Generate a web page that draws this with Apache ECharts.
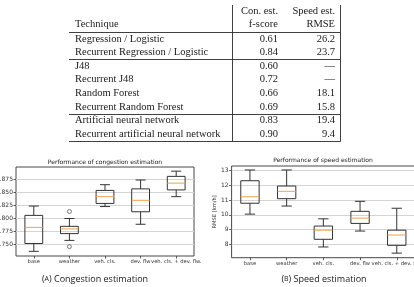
<!DOCTYPE html>
<html><head><meta charset="utf-8">
<script src="https://cdn.jsdelivr.net/npm/echarts@6/dist/echarts.min.js"></script>
<style>html,body{margin:0;padding:0;background:#fff}#c{width:414px;height:287px}</style>
</head><body><div id="c"></div><script>
// ---- table data ----
const techniques = ['Regression / Logistic', 'Recurrent Regression / Logistic', 'J48', 'Recurrent J48',
  'Random Forest', 'Recurrent Random Forest', 'Artificial neural network', 'Recurrent artificial neural network'];
const conFscore = [0.61, 0.84, 0.60, 0.72, 0.66, 0.69, 0.83, 0.90];
const speedRmse = [26.2, 23.7, null, null, 18.1, 15.8, 19.4, 9.4];

// ---- box plot data: [min, q1, median, q3, max] ----
const categories = ['base', 'weather', 'veh. cls.', 'dev. flw', 'veh. cls. + dev. flw.'];
const congestionBoxes = [
  [0.736, 0.751, 0.782, 0.805, 0.823],
  [0.757, 0.770, 0.779, 0.784, 0.799],
  [0.822, 0.828, 0.841, 0.853, 0.864],
  [0.788, 0.812, 0.834, 0.856, 0.873],
  [0.841, 0.854, 0.867, 0.880, 0.890]
];
const congestionOutliers = [[1, 0.8125], [1, 0.745]];
const congestionTicks = [0.750, 0.775, 0.800, 0.825, 0.850, 0.875];
const speedBoxes = [
  [10.05, 10.79, 11.23, 12.32, 13.05],
  [10.60, 11.10, 11.60, 11.96, 13.05],
  [7.82, 8.34, 8.96, 9.24, 9.73],
  [8.90, 9.42, 9.78, 10.24, 10.92],
  [7.40, 7.93, 8.63, 8.96, 10.45]
];
const speedOutliers = [];
const speedTicks = [8, 9, 10, 11, 12, 13];

const chart = echarts.init(document.getElementById('c'), null, {renderer: 'canvas'});

const serif = '"Liberation Serif", "DejaVu Serif", serif';
const sans = '"DejaVu Sans", sans-serif';
const ink = '#333';

function boxRender(params, api) {
  const x = api.value(0);
  const lo = api.coord([x, api.value(1)]);
  const q1 = api.coord([x, api.value(2)]);
  const md = api.coord([x, api.value(3)]);
  const q3 = api.coord([x, api.value(4)]);
  const hi = api.coord([x, api.value(5)]);
  const band = api.size([1, 0])[0];
  const hw = band * 0.25, cw = band * 0.14;
  const cx = lo[0];
  const ls = {stroke: ink, lineWidth: 1};
  return {
    type: 'group',
    children: [
      {type: 'line', shape: {x1: cx, y1: hi[1], x2: cx, y2: q3[1]}, style: ls},
      {type: 'line', shape: {x1: cx, y1: q1[1], x2: cx, y2: lo[1]}, style: ls},
      {type: 'line', shape: {x1: cx - cw, y1: hi[1], x2: cx + cw, y2: hi[1]}, style: ls},
      {type: 'line', shape: {x1: cx - cw, y1: lo[1], x2: cx + cw, y2: lo[1]}, style: ls},
      {type: 'rect', shape: {x: cx - hw, y: q3[1], width: 2 * hw, height: q1[1] - q3[1]}, style: {fill: 'rgba(255,255,255,0)', stroke: ink, lineWidth: 1}},
      {type: 'line', shape: {x1: cx - hw, y1: md[1], x2: cx + hw, y2: md[1]}, style: {stroke: '#f5a04a', lineWidth: 1}}
    ]
  };
}

function yAxisCfg(gi, min, max, ticks, fmt, name) {
  return {
    gridIndex: gi, type: 'value', min: min, max: max,
    name: name || '', nameLocation: 'middle', nameGap: 14,
    nameTextStyle: {fontFamily: sans, fontSize: 5.2, color: ink},
    axisLine: {show: false},
    axisTick: {show: true, length: 2.5, lineStyle: {color: ink, width: 0.8}, customValues: ticks},
    axisLabel: {fontFamily: sans, fontSize: 6, color: ink, margin: 3, customValues: ticks, formatter: fmt},
    splitLine: {show: true, lineStyle: {color: '#d4d4d4', width: 1}}
  };
}
function xAxisCfg(gi) {
  return {
    gridIndex: gi, type: 'category', data: categories, boundaryGap: true,
    axisLine: {show: false},
    axisTick: {show: true, alignWithLabel: true, length: 2.5, lineStyle: {color: ink, width: 0.8}},
    axisLabel: {fontFamily: sans, fontSize: 5.2, color: ink, margin: 3, interval: 0, hideOverlap: false},
    splitLine: {show: false}
  };
}

const rowY0 = 39, rowStep = 13.57;
const graphics = [];
function txt(t, x, y, align, font) {
  graphics.push({type: 'text', x: x, y: y, silent: true,
    style: {text: t, textAlign: align, textVerticalAlign: 'middle', font: font || ('10.5px ' + serif), fill: '#1a1a1a'}});
}
function ln(x1, y1, x2, y2) {
  graphics.push({type: 'line', silent: true, shape: {x1: x1, y1: y1, x2: x2, y2: y2}, style: {stroke: '#2a2a2a', lineWidth: 0.9}});
}
txt('Con. est.', 278, 11, 'right');
txt('Speed est.', 335, 11, 'right');
txt('Technique', 75, 24.5, 'left');
txt('f-score', 278, 24.5, 'right');
txt('RMSE', 335, 24.5, 'right');
techniques.forEach(function (t, i) {
  const y = rowY0 + i * rowStep;
  txt(t, 75, y, 'left');
  txt(conFscore[i].toFixed(2), 278, y, 'right');
  txt(speedRmse[i] == null ? '\u2014' : speedRmse[i].toFixed(1), 335, y, 'right');
});
ln(69, 32.5, 340.5, 32.5);
ln(69, 59.5, 340.5, 59.5);
ln(69, 114.5, 340.5, 114.5);
ln(69, 141.5, 340.5, 141.5);
ln(232.5, 5, 232.5, 141.5);
ln(340.5, 5, 340.5, 141.5);

// chart titles
txt('Performance of congestion estimation', 105, 162, 'center', '6px ' + sans);
txt('Performance of speed estimation', 323, 160.5, 'center', '6px ' + sans);
// captions
graphics.push({type: 'text', x: 95, y: 279, silent: true,
  style: {text: '({sc|A}) Congestion estimation', rich: {sc: {fontSize: 7, fontFamily: '"Open Sans", sans-serif', fill: '#1a1a1a'}},
    textAlign: 'center', textVerticalAlign: 'middle', font: '9px "Open Sans", sans-serif', fill: '#1a1a1a'}});
graphics.push({type: 'text', x: 324, y: 279, silent: true,
  style: {text: '({sc|B}) Speed estimation', rich: {sc: {fontSize: 7, fontFamily: '"Open Sans", sans-serif', fill: '#1a1a1a'}},
    textAlign: 'center', textVerticalAlign: 'middle', font: '9px "Open Sans", sans-serif', fill: '#1a1a1a'}});

chart.setOption({
  animation: false,
  backgroundColor: '#fff',
  grid: [
    {left: 16, top: 167, width: 178, height: 89, show: true, borderColor: ink, borderWidth: 0.9, backgroundColor: 'transparent', containLabel: false, outerBoundsMode: 'none'},
    {left: 231.6, top: 166, width: 183.5, height: 91.7, show: true, borderColor: ink, borderWidth: 0.9, backgroundColor: 'transparent', containLabel: false, outerBoundsMode: 'none'}
  ],
  xAxis: [xAxisCfg(0), xAxisCfg(1)],
  yAxis: [
    yAxisCfg(0, 0.727, 0.898, congestionTicks, function (v) { return v.toFixed(3); }),
    yAxisCfg(1, 7.09, 13.32, speedTicks, function (v) { return String(Math.round(v)); }, 'RMSE [km/h]')
  ],
  series: [
    {type: 'custom', xAxisIndex: 0, yAxisIndex: 0, renderItem: boxRender,
      encode: {x: 0, y: [1, 2, 3, 4, 5]},
      data: congestionBoxes.map(function (b, i) { return [i].concat(b); }), z: 5},
    {type: 'scatter', xAxisIndex: 0, yAxisIndex: 0, data: congestionOutliers, symbol: 'circle', symbolSize: 4,
      itemStyle: {color: 'rgba(255,255,255,0)', borderColor: ink, borderWidth: 0.8}, z: 6},
    {type: 'custom', xAxisIndex: 1, yAxisIndex: 1, renderItem: boxRender,
      encode: {x: 0, y: [1, 2, 3, 4, 5]},
      data: speedBoxes.map(function (b, i) { return [i].concat(b); }), z: 5},
    {type: 'scatter', xAxisIndex: 1, yAxisIndex: 1, data: speedOutliers, symbol: 'circle', symbolSize: 4,
      itemStyle: {color: 'rgba(255,255,255,0)', borderColor: ink, borderWidth: 0.8}, z: 6}
  ],
  graphic: graphics
});
</script></body></html>
